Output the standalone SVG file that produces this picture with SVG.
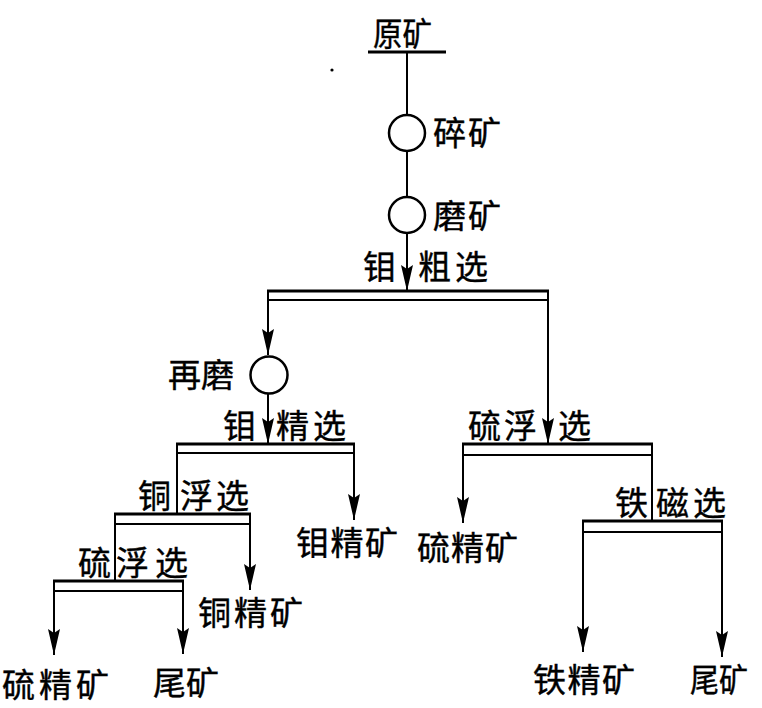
<svg xmlns="http://www.w3.org/2000/svg" width="762" height="708" viewBox="0 0 762 708">
  <defs>
    <style>
      .ln { stroke: #000; stroke-width: 2; fill: none; }
      .bar line { stroke: #000; fill: none; }
      .bar .t { stroke-width: 3; }
      .bar .b { stroke-width: 2; }
      .mill { stroke: #000; stroke-width: 2.5; fill: #fff; }
      text { font-family: "Noto Sans CJK SC", "Noto Sans CJK TC", sans-serif; font-size: 33px; fill: #000; stroke: #000; stroke-width: 0.4; }
    </style>
    <!-- narrow flow arrowhead, tip at the end of the line -->
    <marker id="arr" viewBox="0 0 26 12" refX="26" refY="6" markerWidth="26" markerHeight="12" markerUnits="userSpaceOnUse" orient="auto">
      <path d="M0,0 L26,6 L0,12 L4,6 Z" fill="#000"/>
    </marker>
  </defs>
  <rect width="762" height="708" fill="#fff"/>

  <!-- stray ink speck -->
  <circle cx="332" cy="70" r="1.6" fill="#000"/>

  <g id="connectors">
    <!-- feed line through crushing and grinding -->
    <line class="ln" x1="407" y1="52" x2="407" y2="115"/>
    <line class="ln" x1="407" y1="151" x2="407" y2="197"/>
    <line class="ln" x1="407" y1="233" x2="407" y2="291" marker-end="url(#arr)"/>
    <!-- rougher outputs -->
    <line class="ln" x1="268" y1="300" x2="268" y2="355" marker-end="url(#arr)"/>
    <line class="ln" x1="268" y1="394" x2="268" y2="444" marker-end="url(#arr)"/>
    <line class="ln" x1="548" y1="300" x2="548" y2="444" marker-end="url(#arr)"/>
    <!-- molybdenum cleaner outputs -->
    <line class="ln" x1="177" y1="453" x2="177" y2="514"/>
    <line class="ln" x1="354" y1="453" x2="354" y2="520" marker-end="url(#arr)"/>
    <!-- copper flotation outputs -->
    <line class="ln" x1="115" y1="524" x2="115" y2="581"/>
    <line class="ln" x1="250" y1="524" x2="250" y2="590" marker-end="url(#arr)"/>
    <!-- sulphur flotation (left) outputs -->
    <line class="ln" x1="54" y1="591" x2="54" y2="655" marker-end="url(#arr)"/>
    <line class="ln" x1="183" y1="591" x2="183" y2="654" marker-end="url(#arr)"/>
    <!-- sulphur flotation (right) outputs -->
    <line class="ln" x1="463" y1="455" x2="463" y2="523" marker-end="url(#arr)"/>
    <line class="ln" x1="652" y1="455" x2="652" y2="521"/>
    <!-- magnetic separation outputs -->
    <line class="ln" x1="583" y1="532" x2="583" y2="652" marker-end="url(#arr)"/>
    <line class="ln" x1="722" y1="532" x2="722" y2="657" marker-end="url(#arr)"/>
  </g>

  <g id="feed">
    <line x1="368" y1="52" x2="446" y2="52" stroke="#000" stroke-width="3"/>
    <text x="373" y="46" textLength="59" lengthAdjust="spacingAndGlyphs">原矿</text>
  </g>

  <g id="crushing">
    <circle class="mill" cx="407" cy="133" r="18"/>
    <text x="433" y="145" textLength="68">碎矿</text>
  </g>

  <g id="grinding">
    <circle class="mill" cx="407" cy="215" r="18"/>
    <text x="433" y="228" textLength="68">磨矿</text>
  </g>

  <g id="mo-rougher" class="bar">
    <line class="t" x1="267" y1="291" x2="549" y2="291"/>
    <line class="b" x1="267" y1="300" x2="549" y2="300"/>
    <line class="b" x1="268" y1="290" x2="268" y2="301"/>
    <line class="b" x1="548" y1="290" x2="548" y2="301"/>
    <text x="363" y="279">钼</text>
    <text x="418" y="279" textLength="70">粗选</text>
  </g>

  <g id="regrind">
    <circle class="mill" cx="269" cy="375" r="18.5"/>
    <text x="168" y="387" textLength="66">再磨</text>
  </g>

  <g id="mo-cleaner" class="bar">
    <line class="t" x1="176" y1="444" x2="355" y2="444"/>
    <line class="b" x1="176" y1="453" x2="355" y2="453"/>
    <line class="b" x1="177" y1="443" x2="177" y2="454"/>
    <line class="b" x1="354" y1="443" x2="354" y2="454"/>
    <text x="223" y="438">钼</text>
    <text x="276" y="438" textLength="70">精选</text>
  </g>

  <g id="s-flotation-right" class="bar">
    <line class="t" x1="462" y1="444" x2="653" y2="444"/>
    <line class="b" x1="462" y1="455" x2="653" y2="455"/>
    <line class="b" x1="463" y1="443" x2="463" y2="456"/>
    <line class="b" x1="652" y1="443" x2="652" y2="456"/>
    <text x="468" y="438" textLength="69">硫浮</text>
    <text x="558" y="438">选</text>
  </g>

  <g id="fe-magnetic" class="bar">
    <line class="t" x1="582" y1="521" x2="723" y2="521"/>
    <line class="b" x1="582" y1="532" x2="723" y2="532"/>
    <line class="b" x1="583" y1="520" x2="583" y2="533"/>
    <line class="b" x1="722" y1="520" x2="722" y2="533"/>
    <text x="615" y="515">铁</text>
    <text x="656" y="515" textLength="70">磁选</text>
  </g>

  <g id="cu-flotation" class="bar">
    <line class="t" x1="114" y1="514" x2="251" y2="514"/>
    <line class="b" x1="114" y1="524" x2="251" y2="524"/>
    <line class="b" x1="115" y1="513" x2="115" y2="525"/>
    <line class="b" x1="250" y1="513" x2="250" y2="525"/>
    <text x="138" y="508">铜</text>
    <text x="180" y="508" textLength="69">浮选</text>
  </g>

  <g id="s-flotation-left" class="bar">
    <line class="t" x1="53" y1="581" x2="184" y2="581"/>
    <line class="b" x1="53" y1="591" x2="184" y2="591"/>
    <line class="b" x1="54" y1="580" x2="54" y2="592"/>
    <line class="b" x1="183" y1="580" x2="183" y2="592"/>
    <text x="78" y="575">硫</text>
    <text x="116" y="575" textLength="72">浮选</text>
  </g>

  <g id="mo-concentrate">
    <text x="296" y="555" textLength="102">钼精矿</text>
  </g>

  <g id="cu-concentrate">
    <text x="198" y="625" textLength="105">铜精矿</text>
  </g>

  <g id="s-concentrate-right">
    <text x="417" y="560" textLength="101">硫精矿</text>
  </g>

  <g id="s-concentrate-left">
    <text x="2" y="697" textLength="107">硫精矿</text>
  </g>

  <g id="tailings-left">
    <text x="153" y="695" textLength="66">尾矿</text>
  </g>

  <g id="fe-concentrate">
    <text x="533" y="692" textLength="102">铁精矿</text>
  </g>

  <g id="tailings-right">
    <text x="690" y="692" textLength="58" lengthAdjust="spacingAndGlyphs">尾矿</text>
  </g>
</svg>
